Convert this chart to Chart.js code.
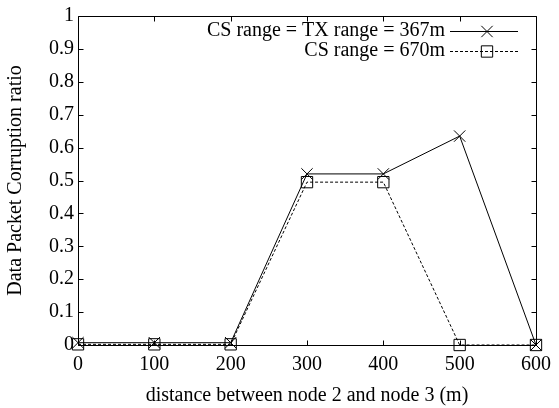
<!DOCTYPE html>
<html>
<head>
<meta charset="utf-8">
<script src="https://cdn.jsdelivr.net/npm/chart.js@4.4.1/dist/chart.umd.min.js"></script>
<style>
  html, body { margin: 0; padding: 0; background: #fff; }
  #wrap { width: 559px; height: 408px; }
</style>
</head>
<body>
<div id="wrap"><canvas id="chart" width="559" height="408"></canvas></div>
<script>
'use strict';

// values
const distances = [0, 100, 200, 300, 400, 500, 600];
const txRange367 = [0.007, 0.007, 0.007, 0.52, 0.52, 0.635, 0];
const csRange670 = [0.002, 0.002, 0.002, 0.495, 0.495, 0, 0];
const seriesLabels = ['CS range = TX range = 367m', 'CS range = 670m'];
const xTickLabels = ['0', '100', '200', '300', '400', '500', '600'];
const yTickLabels = ['0', '0.1', '0.2', '0.3', '0.4', '0.5', '0.6', '0.7', '0.8', '0.9', '1'];

const FONT = '"Liberation Serif", "Times New Roman", serif';

function toPoints(xs, ys) {
  return xs.map((x, i) => ({x: x, y: ys[i]}));
}

// gnuplot look: closed frame with inward ticks on all four sides
const gnuplotFrame = {
  id: 'gnuplotFrame',
  beforeDatasetsDraw(chart) {
    const {ctx, chartArea: a, scales} = chart;
    const len = 5;
    const px = v => Math.round(v) + 0.5;
    ctx.save();
    ctx.strokeStyle = '#000';
    ctx.lineWidth = 1;
    ctx.beginPath();
    ctx.rect(px(a.left), px(a.top), Math.round(a.right) - Math.round(a.left), Math.round(a.bottom) - Math.round(a.top));
    for (const t of scales.x.ticks) {
      const x = px(scales.x.getPixelForValue(t.value));
      ctx.moveTo(x, px(a.bottom)); ctx.lineTo(x, px(a.bottom) - len);
      ctx.moveTo(x, px(a.top)); ctx.lineTo(x, px(a.top) + len);
    }
    for (const t of scales.y.ticks) {
      const y = px(scales.y.getPixelForValue(t.value));
      ctx.moveTo(px(a.left), y); ctx.lineTo(px(a.left) + len, y);
      ctx.moveTo(px(a.right), y); ctx.lineTo(px(a.right) - len, y);
    }
    ctx.stroke();
    ctx.restore();
  }
};

// key in the top right corner: text right aligned, sample line on the right
const gnuplotKey = {
  id: 'gnuplotKey',
  afterDatasetsDraw(chart, args, opts) {
    const ctx = chart.ctx;
    ctx.save();
    chart.data.datasets.forEach((ds, i) => {
      const yy = opts.top + i * opts.rowHeight;
      ctx.fillStyle = '#000';
      ctx.font = '20px ' + FONT;
      ctx.textAlign = 'right';
      ctx.textBaseline = 'middle';
      ctx.fillText(ds.label, opts.textRight, yy);
      ctx.strokeStyle = ds.borderColor;
      ctx.lineWidth = ds.borderWidth;
      ctx.setLineDash(ds.borderDash || []);
      ctx.beginPath();
      ctx.moveTo(opts.lineStart, Math.round(yy) + 0.5);
      ctx.lineTo(opts.lineEnd, Math.round(yy) + 0.5);
      ctx.stroke();
      ctx.setLineDash([]);
      ctx.fillStyle = 'rgba(0,0,0,0)';
      Chart.helpers.drawPoint(ctx, {
        pointStyle: ds.pointStyle,
        radius: ds.pointRadius,
        borderWidth: 1,
        rotation: 0
      }, opts.marker, Math.round(yy) + 0.5);
    });
    ctx.restore();
  }
};

const ctx = document.getElementById('chart');
new Chart(ctx, {
  type: 'line',
  data: {
    datasets: [{
      label: seriesLabels[0],
      data: toPoints(distances, txRange367),
      borderColor: '#000',
      borderWidth: 1,
      pointStyle: 'crossRot',
      pointRadius: 8,
      pointBorderWidth: 1,
      pointBorderColor: '#000',
      pointBackgroundColor: 'rgba(0,0,0,0)',
      tension: 0,
      clip: false,
    }, {
      label: seriesLabels[1],
      data: toPoints(distances, csRange670),
      borderColor: '#000',
      borderWidth: 1,
      borderDash: [3, 2],
      pointStyle: 'rect',
      pointRadius: 8,
      pointBorderWidth: 1,
      pointBorderColor: '#000',
      pointBackgroundColor: 'rgba(0,0,0,0)',
      tension: 0,
      clip: false,
    }]
  },
  options: {
    responsive: false,
    animation: false,
    devicePixelRatio: 1,
    layout: {
      padding: {top: 14, right: 19, left: 0, bottom: 0}
    },
    plugins: {
      legend: {display: false},
      tooltip: {enabled: false},
      gnuplotKey: {
        top: 31,
        rowHeight: 20,
        textRight: 445,
        lineStart: 450,
        lineEnd: 518,
        marker: 487
      }
    },
    scales: {
      x: {
        type: 'linear',
        min: 0,
        max: 600,
        ticks: {
          stepSize: 100,
          padding: 8,
          color: '#000',
          font: {family: FONT, size: 20},
          callback: (v, i) => xTickLabels[i]
        },
        grid: {display: false, drawTicks: false},
        border: {display: false},
        title: {
          display: true,
          text: 'distance between node 2 and node 3 (m)',
          color: '#000',
          font: {family: FONT, size: 20},
          padding: {top: 0, bottom: 0}
        },
        afterFit: s => { s.height = 63; }
      },
      y: {
        min: 0,
        max: 1,
        ticks: {
          stepSize: 0.1,
          padding: 4,
          color: '#000',
          font: {family: FONT, size: 20},
          callback: (v, i) => yTickLabels[i]
        },
        grid: {display: false, drawTicks: false},
        border: {display: false},
        title: {
          display: true,
          text: 'Data Packet Corruption ratio',
          color: '#000',
          font: {family: FONT, size: 20},
          padding: {top: 4, bottom: 0}
        },
        afterFit: s => { s.width = 78; }
      }
    }
  },
  plugins: [gnuplotFrame, gnuplotKey]
});
</script>
</body>
</html>
